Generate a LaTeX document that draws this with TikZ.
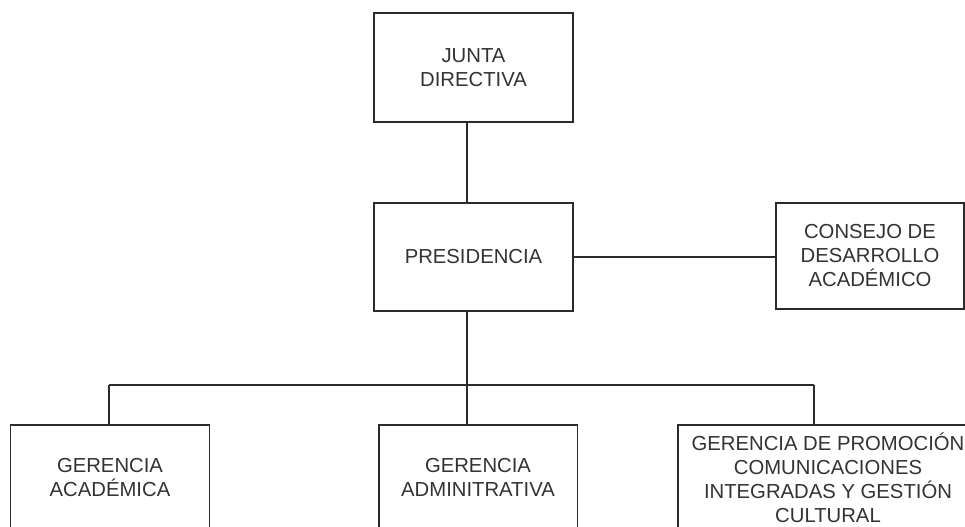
\documentclass[tikz,border=0pt]{standalone}
\usepackage{fontspec}
\setmainfont{Liberation Sans}
\definecolor{linea}{gray}{0.17}
\definecolor{texto}{gray}{0.2}
\usetikzlibrary{positioning}
\tikzstyle{base}=[x=0.567pt, y=-0.567pt, line width=1.1pt]
\tikzstyle{caja}=[draw=linea, fill=white, text=texto, align=center, inner sep=0pt,
  minimum width=112.8pt, minimum height=61.5pt, font=\fontsize{11.5}{13.6}\selectfont]

\begin{document}
\begin{tikzpicture}[base]
    \useasboundingbox (0,0) rectangle (965,527);
        \node [caja] (junta) at (473.5,67.5) {JUNTA\\DIRECTIVA};
        \node [caja] (presidencia) at (473.5,257) {PRESIDENCIA};
        \node [caja, minimum width=106.6pt, minimum height=60.1pt] (consejo) at (870,256) {CONSEJO DE\\DESARROLLO\\ACADÉMICO};
        \node [caja, minimum height=59.5pt] (academica) at (110,477.5) {GERENCIA\\ACADÉMICA};
        \node [caja, minimum height=59.5pt] (administrativa) at (478,477.5) {GERENCIA\\ADMINITRATIVA};
        \node [caja, minimum width=170pt, minimum height=59.5pt] (promocion) at (828,477.5) {GERENCIA DE PROMOCIÓN\\COMUNICACIONES\\INTEGRADAS Y GESTIÓN\\CULTURAL};
        \coordinate (eje) at (467,385);
        \coordinate (izq) at (109,385);
        \coordinate (der) at (814,385);
        \draw [linea] (junta.south -| eje) -- (presidencia.north -| eje);
        \draw [linea] (presidencia.east) -- (consejo.west |- presidencia.east);
        \draw [linea] (presidencia.south -| eje) -- (eje);
        \draw [linea] (izq) -- (der);
        \draw [linea] (izq) -- (academica.north -| izq);
        \draw [linea] (eje) -- (administrativa.north -| eje);
        \draw [linea] (der) -- (promocion.north -| der);
\end{tikzpicture}
\end{document}
